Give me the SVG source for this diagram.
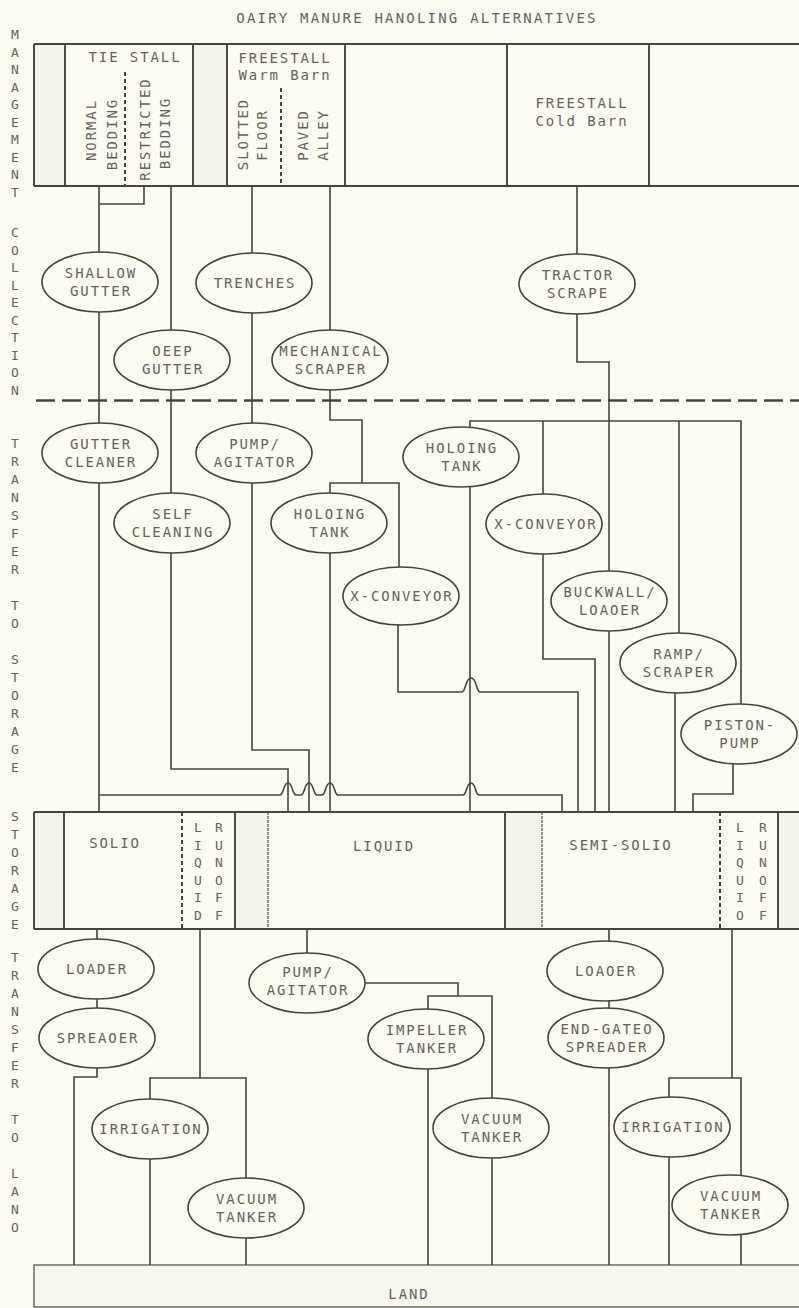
<svg xmlns="http://www.w3.org/2000/svg" width="799" height="1308" viewBox="0 0 799 1308">
<style>
.ln{stroke:#47423e;stroke-width:1.6;fill:none}
.fr{stroke:#47423e;stroke-width:1.9;fill:none}
.dash{stroke:#47423e;stroke-width:2;fill:none;stroke-dasharray:4 3}
.el{stroke:#47423e;stroke-width:1.6;fill:#fcfcf3}
.sh{fill:#f4f4eb}
.t{font-family:"DejaVu Sans Mono","Liberation Mono",monospace;font-size:14px;letter-spacing:1.9px;fill:#66615c;text-anchor:middle}
.s{font-family:"DejaVu Sans Mono","Liberation Mono",monospace;font-size:13px;fill:#66615c;text-anchor:middle}
</style>
<rect x="0" y="0" width="799" height="1308" fill="#fcfcf3"/>

<text class="t" x="417" y="23" style="letter-spacing:2.2px">OAIRY MANURE HANOLING ALTERNATIVES</text>

<g id="side-labels">
<text class="s" x="15 15 15 15 15 15 15 15 15 15" y="39 56.6 74.1 91.7 109.2 126.8 144.3 161.9 179.4 197">MANAGEMENT</text>
<text class="s" x="15 15 15 15 15 15 15 15 15 15" y="237 254.6 272.1 289.7 307.2 324.8 342.3 359.9 377.4 395">COLLECTION</text>
<text class="s" x="15 15 15 15 15 15 15 15 15 15 15 15 15 15 15 15 15" y="448 466 484 502 520 538 556 574 610 628 664 682 700 718 736 754 772">TRANSFERTOSTORAGE</text>
<text class="s" x="15 15 15 15 15 15 15" y="821 839 857 875 893 911 929">STORAGE</text>
<text class="s" x="15 15 15 15 15 15 15 15 15 15 15 15 15 15" y="962 980 998 1016 1034 1052 1070 1088 1124 1142 1178 1196 1214 1232">TRANSFERTOLANO</text>
</g>

<g id="management">
<rect class="sh" x="34" y="44" width="31" height="142"/>
<rect class="sh" x="193" y="44" width="34" height="142"/>
<path class="fr" d="M34 44 H799 M34 186 H799 M34 44 V186 M65 44 V186 M193 44 V186 M227 44 V186 M345 44 V186 M507 44 V186 M649 44 V186"/>
<path class="dash" d="M125 72 V186 M281 88 V186"/>
<text class="t" x="135" y="62">TIE STALL</text>
<text class="t" x="285" y="63">FREESTALL</text>
<text class="t" x="285" y="80">Warm Barn</text>
<text class="t" transform="translate(96,130) rotate(-90)">NORMAL</text>
<text class="t" transform="translate(116.5,134) rotate(-90)">BEDDING</text>
<text class="t" transform="translate(149.5,129) rotate(-90)">RESTRICTED</text>
<text class="t" transform="translate(169.5,133) rotate(-90)">BEDDING</text>
<text class="t" transform="translate(247.5,134) rotate(-90)">SLOTTED</text>
<text class="t" transform="translate(267,135) rotate(-90)">FLOOR</text>
<text class="t" transform="translate(308,135) rotate(-90)">PAVED</text>
<text class="t" transform="translate(328,135) rotate(-90)">ALLEY</text>
<text class="t" x="582" y="108">FREESTALL</text>
<text class="t" x="582" y="126">Cold Barn</text>
</g>

<g id="storage">
<rect class="sh" x="34" y="812" width="30" height="117"/>
<rect class="sh" x="235" y="812" width="33" height="117"/>
<rect class="sh" x="505" y="812" width="37" height="117"/>
<rect class="sh" x="778" y="812" width="21" height="117"/>
<path class="fr" d="M34 812 H799 M34 929 H799 M34 812 V929 M64 812 V929 M235 812 V929 M505 812 V929 M778 812 V929"/>
<path class="dash" d="M182 812 V929 M720 812 V929"/>
<path class="ln" d="M268 812 V929 M542 812 V929" style="stroke-width:1.1;stroke-dasharray:3 1"/>
<text class="t" x="115" y="848">SOLIO</text>
<text class="t" x="384" y="851">LIQUID</text>
<text class="t" x="621" y="850">SEMI-SOLIO</text>
<text class="s" x="198 198 198 198 198 198" y="832 849.6 867.2 884.8 902.4 920">LIQUID</text>
<text class="s" x="219 219 219 219 219 219" y="832 849.6 867.2 884.8 902.4 920">RUNOFF</text>
<text class="s" x="740 740 740 740 740 740" y="832 849.6 867.2 884.8 902.4 920">LIQUIO</text>
<text class="s" x="763 763 763 763 763 763" y="832 849.6 867.2 884.8 902.4 920">RUNOFF</text>
</g>

<g id="land">
<rect x="34" y="1265" width="770" height="42" fill="#f8f8ef" stroke="#5a5550" stroke-width="1.3"/>
<text class="t" x="409" y="1299">LAND</text>
</g>

<g id="connectors">
<path d="M36 400.5 H799" stroke="#47423e" stroke-width="2.6" stroke-dasharray="19 7" fill="none"/>
<path class="ln" d="M99 186 V282 M144 186 V204 H99 M171 186 V360 M252 186 V283 M330 186 V360 M577 186 V284"/>
<path class="ln" d="M99 282 V453 M171 360 V523 M252 283 V453 M330 360 V420 H362 V483 M330 523 V483 H399 V596"/>
<path class="ln" d="M577 284 V362 H609 V601 M470 457 V421 H741 V734 M543 421 V524 M679 421 V663"/>
<path class="ln" d="M99 453 V812 M99 795 H280 C284 795 283 783 288 783 C293 783 292 795 296 795 H301 C305 795 304 783 309 783 C314 783 313 795 317 795 H322 C326 795 325 783 330 783 C335 783 334 795 338 795 H463 C467 795 466 783 471 783 C476 783 475 795 479 795 H562 V812"/>
<path class="ln" d="M171 523 V769 H288 V812 M252 453 V750 H309 V812 M330 523 V812"/>
<path class="ln" d="M398 596 V692 H462 C466 692 465 678 471 678 C477 678 476 692 480 692 H578 V812"/>
<path class="ln" d="M543 524 V659 H595 V812 M470 457 V812 M609 601 V812 M675 663 V812 M733 734 V794 H693 V812"/>
<path class="ln" d="M97 929 V1077 H74 V1265 M200 929 V1078 M150 1265 V1078 H246 V1265"/>
<path class="ln" d="M307 929 V983 H458 V996 M428 1265 V996 H492 V1265"/>
<path class="ln" d="M609 929 V1265 M732 929 V1078 M669 1265 V1078 H741 V1265"/>
</g>

<g id="n-shallow-gutter"><ellipse class="el" cx="100" cy="282" rx="58" ry="30"/><text class="t" x="101" y="278">SHALLOW</text><text class="t" x="101" y="296">GUTTER</text></g>
<g id="n-trenches"><ellipse class="el" cx="254" cy="283" rx="58" ry="30"/><text class="t" x="255" y="288">TRENCHES</text></g>
<g id="n-deep-gutter"><ellipse class="el" cx="172" cy="360" rx="58" ry="30"/><text class="t" x="173" y="356">OEEP</text><text class="t" x="173" y="374">GUTTER</text></g>
<g id="n-mech-scraper"><ellipse class="el" cx="330" cy="360" rx="58" ry="30"/><text class="t" x="331" y="356">MECHANICAL</text><text class="t" x="331" y="374">SCRAPER</text></g>
<g id="n-tractor-scrape"><ellipse class="el" cx="577" cy="284" rx="58" ry="30"/><text class="t" x="578" y="280">TRACTOR</text><text class="t" x="578" y="298">SCRAPE</text></g>

<g id="n-gutter-cleaner"><ellipse class="el" cx="100" cy="453" rx="58" ry="30"/><text class="t" x="101" y="449">GUTTER</text><text class="t" x="101" y="467">CLEANER</text></g>
<g id="n-pump-agitator-1"><ellipse class="el" cx="254" cy="453" rx="58" ry="30"/><text class="t" x="255" y="449">PUMP/</text><text class="t" x="255" y="467">AGITATOR</text></g>
<g id="n-self-cleaning"><ellipse class="el" cx="172" cy="523" rx="58" ry="30"/><text class="t" x="173" y="519">SELF</text><text class="t" x="173" y="537">CLEANING</text></g>
<g id="n-holding-tank-1"><ellipse class="el" cx="329" cy="523" rx="58" ry="30"/><text class="t" x="330" y="519">HOLOING</text><text class="t" x="330" y="537">TANK</text></g>
<g id="n-x-conveyor-1"><ellipse class="el" cx="401" cy="596" rx="58" ry="29"/><text class="t" x="402" y="601">X-CONVEYOR</text></g>
<g id="n-holding-tank-2"><ellipse class="el" cx="461" cy="457" rx="58" ry="30"/><text class="t" x="462" y="453">HOLOING</text><text class="t" x="462" y="471">TANK</text></g>
<g id="n-x-conveyor-2"><ellipse class="el" cx="544" cy="524" rx="58" ry="30"/><text class="t" x="546" y="529">X-CONVEYOR</text></g>
<g id="n-buckwall"><ellipse class="el" cx="609" cy="601" rx="58" ry="30"/><text class="t" x="610" y="597">BUCKWALL/</text><text class="t" x="610" y="615">LOAOER</text></g>
<g id="n-ramp-scraper"><ellipse class="el" cx="678" cy="663" rx="58" ry="30"/><text class="t" x="679" y="659">RAMP/</text><text class="t" x="679" y="677">SCRAPER</text></g>
<g id="n-piston-pump"><ellipse class="el" cx="739" cy="734" rx="58" ry="30"/><text class="t" x="740" y="730">PISTON-</text><text class="t" x="740" y="748">PUMP</text></g>

<g id="n-loader-1"><ellipse class="el" cx="96" cy="969" rx="58" ry="30"/><text class="t" x="97" y="974">LOADER</text></g>
<g id="n-spreader"><ellipse class="el" cx="97" cy="1038" rx="58" ry="30"/><text class="t" x="98" y="1043">SPREAOER</text></g>
<g id="n-pump-agitator-2"><ellipse class="el" cx="307" cy="983" rx="58" ry="30"/><text class="t" x="308" y="977">PUMP/</text><text class="t" x="308" y="995">AGITATOR</text></g>
<g id="n-impeller-tanker"><ellipse class="el" cx="426" cy="1039" rx="58" ry="30"/><text class="t" x="427" y="1035">IMPELLER</text><text class="t" x="427" y="1053">TANKER</text></g>
<g id="n-irrigation-1"><ellipse class="el" cx="150" cy="1129" rx="58" ry="30"/><text class="t" x="151" y="1134">IRRIGATION</text></g>
<g id="n-vacuum-tanker-1"><ellipse class="el" cx="246" cy="1208" rx="58" ry="30"/><text class="t" x="247" y="1204">VACUUM</text><text class="t" x="247" y="1222">TANKER</text></g>
<g id="n-vacuum-tanker-2"><ellipse class="el" cx="491" cy="1128" rx="58" ry="30"/><text class="t" x="492" y="1124">VACUUM</text><text class="t" x="492" y="1142">TANKER</text></g>
<g id="n-loader-2"><ellipse class="el" cx="605" cy="971" rx="58" ry="30"/><text class="t" x="606" y="976">LOAOER</text></g>
<g id="n-end-gated-spreader"><ellipse class="el" cx="606" cy="1038" rx="58" ry="30"/><text class="t" x="607" y="1034">END-GATEO</text><text class="t" x="607" y="1052">SPREADER</text></g>
<g id="n-irrigation-2"><ellipse class="el" cx="672" cy="1127" rx="58" ry="30"/><text class="t" x="673" y="1132">IRRIGATION</text></g>
<g id="n-vacuum-tanker-3"><ellipse class="el" cx="730" cy="1205" rx="58" ry="30"/><text class="t" x="731" y="1201">VACUUM</text><text class="t" x="731" y="1219">TANKER</text></g>
</svg>
